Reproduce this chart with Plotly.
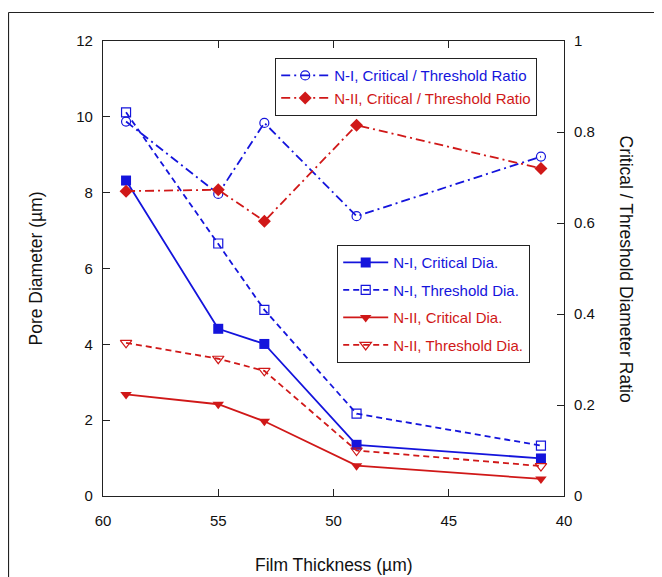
import plotly.graph_objects as go

# ---- data ----
thickness = [59, 55, 53, 49, 41]
ni_critical = [8.32, 4.41, 4.01, 1.35, 0.99]
ni_threshold = [10.12, 6.66, 4.91, 2.17, 1.33]
nii_critical = [2.68, 2.42, 1.97, 0.80, 0.45]
nii_threshold = [4.04, 3.62, 3.30, 1.20, 0.79]
ni_ratio = [0.823, 0.664, 0.820, 0.615, 0.746]
nii_ratio = [0.670, 0.673, 0.604, 0.815, 0.720]

x_ticks = [60, 55, 50, 45, 40]
y_ticks = [0, 2, 4, 6, 8, 10, 12]
y2_ticks = [0, 0.2, 0.4, 0.6, 0.8, 1]
y2_labels = ["0", "0.2", "0.4", "0.6", "0.8", "1"]

BLUE = "#1414dc"
RED = "#d01818"
FONT = "Liberation Sans, Arial, sans-serif"

def lbl(text, color):
    return f"<span style='color:{color}'>{text}</span>"

fig = go.Figure()

# ratio traces (right axis, legend 1)
fig.add_trace(go.Scatter(
    x=thickness, y=ni_ratio, yaxis="y2", mode="lines+markers",
    name=lbl("N-I, Critical / Threshold Ratio", BLUE), legend="legend",
    line=dict(color=BLUE, width=1.8, dash="9px,4px,2px,4px"),
    marker=dict(symbol="circle-open", size=9, color=BLUE, line=dict(width=1.2))))
fig.add_trace(go.Scatter(
    x=thickness, y=nii_ratio, yaxis="y2", mode="lines+markers",
    name=lbl("N-II, Critical / Threshold Ratio", RED), legend="legend",
    line=dict(color=RED, width=1.8, dash="9px,4px,2px,4px"),
    marker=dict(symbol="diamond", size=10, color=RED)))

# diameter traces (left axis, legend 2)
fig.add_trace(go.Scatter(
    x=thickness, y=ni_critical, mode="lines+markers",
    name=lbl("N-I, Critical Dia.", BLUE), legend="legend2", legendgroup="a",
    line=dict(color=BLUE, width=1.8),
    marker=dict(symbol="square", size=10, color=BLUE)))
fig.add_trace(go.Scatter(
    x=thickness, y=ni_threshold, mode="lines+markers",
    name=lbl("N-I, Threshold Dia.", BLUE), legend="legend2", legendgroup="b",
    line=dict(color=BLUE, width=1.8, dash="6px,4px"),
    marker=dict(symbol="square-open", size=9, color=BLUE, line=dict(width=1.2))))
fig.add_trace(go.Scatter(
    x=thickness, y=nii_critical, mode="lines+markers",
    name=lbl("N-II, Critical Dia.", RED), legend="legend2", legendgroup="c",
    line=dict(color=RED, width=1.8),
    marker=dict(symbol="triangle-down", size=10, color=RED)))
fig.add_trace(go.Scatter(
    x=thickness, y=nii_threshold, mode="lines+markers",
    name=lbl("N-II, Threshold Dia.", RED), legend="legend2", legendgroup="d",
    line=dict(color=RED, width=1.8, dash="6px,4px"),
    marker=dict(symbol="triangle-down-open", size=10, color=RED, line=dict(width=1.2))))

# page pixels (reference) -> figure; the page body adds an 8px offset
OFF = 8
W, H = 662 - OFF, 577 - OFF
L, T = 103 - OFF, 41 - OFF
R = W - (564 - OFF)
B = H - (496 - OFF)
pw, ph = W - L - R, H - T - B

def px_x(p):
    return (p - OFF - L) / pw

def px_y(p):
    return (H - B - (p - OFF)) / ph

axis_common = dict(
    showline=True, linecolor="#222", linewidth=1.2,
    ticks="inside", ticklen=7, tickcolor="#222", tickwidth=1,
    showgrid=False, zeroline=False,
    tickfont=dict(family=FONT, size=15, color="#111"),
)

fig.update_layout(
    width=W, height=H,
    margin=dict(l=L, r=R, t=T, b=B),
    paper_bgcolor="white", plot_bgcolor="white",
    font=dict(family=FONT, size=15, color="#111"),
    showlegend=True,
    xaxis=dict(range=[60, 40], tickvals=x_ticks, mirror="ticks",
               ticklabelstandoff=11, **axis_common),
    yaxis=dict(range=[0, 12], tickvals=y_ticks, ticklabelstandoff=6, **axis_common),
    yaxis2=dict(range=[0, 1], tickvals=y2_ticks, ticktext=y2_labels,
                overlaying="y", side="right", ticklabelstandoff=6, **axis_common),
    legend=dict(
        x=px_x(275), y=px_y(58), xanchor="left", yanchor="top",
        bgcolor="white", bordercolor="#222", borderwidth=1.2,
        font=dict(family=FONT, size=15), itemwidth=48, tracegroupgap=0,
    ),
    legend2=dict(
        x=px_x(337), y=px_y(245), xanchor="left", yanchor="top",
        bgcolor="white", bordercolor="#222", borderwidth=1.2,
        font=dict(family=FONT, size=15), itemwidth=45,
        traceorder="grouped", tracegroupgap=5,
    ),
    annotations=[
        dict(text="Pore Diameter (µm)", x=0, y=0.5, xref="paper", yref="paper",
             xanchor="center", yanchor="middle", xshift=-68, textangle=-90,
             showarrow=False, font=dict(family=FONT, size=17.5, color="#111")),
        dict(text="Critical / Threshold Diameter Ratio", x=1, y=0.5, xref="paper", yref="paper",
             xanchor="center", yanchor="middle", xshift=62, textangle=90,
             showarrow=False, font=dict(family=FONT, size=17.5, color="#111")),
        dict(text="Film Thickness (µm)", x=0.5, y=0, xref="paper", yref="paper",
             xanchor="center", yanchor="middle", yshift=-69,
             showarrow=False, font=dict(family=FONT, size=17.5, color="#111")),
    ],
    shapes=[
        dict(type="line", xref="paper", yref="paper",
             x0=px_x(8.5), x1=px_x(8.5), y0=px_y(12.5), y1=px_y(600),
             line=dict(color="#222", width=1.2)),
        dict(type="line", xref="paper", yref="paper",
             x0=px_x(8.5), x1=px_x(680), y0=px_y(12.5), y1=px_y(12.5),
             line=dict(color="#222", width=1.2)),
    ],
)

fig.write_html("out.html")
